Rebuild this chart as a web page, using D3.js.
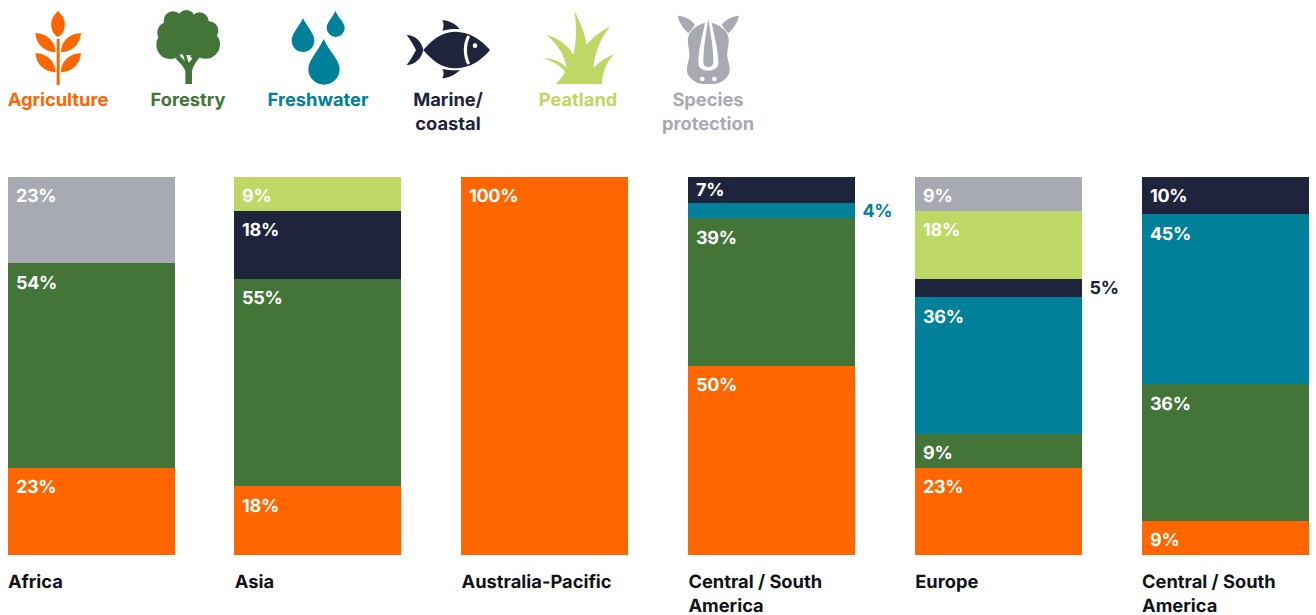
<!DOCTYPE html>
<html><head><meta charset="utf-8">
<script src="https://cdn.jsdelivr.net/npm/d3@7/dist/d3.min.js"></script>
<style>html,body{margin:0;padding:0;background:#fff;overflow:hidden}svg{display:block}text{font-family:Inter,sans-serif;font-weight:700;font-size:18.3px;text-rendering:geometricPrecision}text.val{font-size:18px;font-weight:650;letter-spacing:-0.3px}</style>
</head><body><svg id="c" width="1316" height="615"></svg>
<script>
const regions=["Africa","Asia","Australia-Pacific","Central / South America","Europe","Central / South America"];
const seriesNames=["Agriculture","Forestry","Freshwater","Marine/ coastal","Peatland","Species protection"];
const colors=["#ff6600","#437538","#008099","#1e243c","#bed765","#a7aab3"];
const agriculture=[23,18,100,50,23,9];
const forestry=[54,55,0,39,9,36];
const freshwater=[0,0,0,4,36,45];
const marine=[0,18,0,7,5,10];
const peatland=[0,9,0,0,18,0];
const species=[23,0,0,0,9,0];
const allSeries=[agriculture,forestry,freshwater,marine,peatland,species];

const svg=d3.select("#c");
const idx=regions.map((_,i)=>i);
const xBand=d3.scaleBand().domain(idx).range([8,1309]).paddingInner(0.2637).paddingOuter(0);
const x=i=>Math.floor(xBand(i));
const bw=Math.round(xBand.bandwidth());
const yScale=d3.scaleLinear().domain([0,100]).range([555.03,177.03]);
const y=v=>Math.floor(yScale(v));
const legendX=d3.scalePoint().domain(seriesNames).range([58,708]);

const rows=idx.map(i=>{const r={i};seriesNames.forEach((s,k)=>r[s]=allSeries[k][i]);return r;});
const stacked=d3.stack().keys(seriesNames)(rows);

stacked.forEach((layer,k)=>{
  const g=svg.append("g");
  const shown=layer.filter(d=>d[1]>d[0]);
  g.selectAll("rect").data(shown).join("rect")
    .attr("x",d=>x(d.data.i)).attr("width",bw)
    .attr("y",d=>y(d[1])).attr("height",d=>y(d[0])-y(d[1]))
    .attr("fill",colors[k]);
  g.selectAll("text").data(shown).join("text").attr("class","val")
    .attr("x",d=>(d[1]-d[0])<=5?x(d.data.i)+bw+7.5:x(d.data.i)+8)
    .attr("y",d=>{const v=d[1]-d[0];return v<=7?(y(d[0])+y(d[1]))/2+6:yScale(d[1])+25.1;})
    .attr("fill",d=>(d[1]-d[0])<=5?colors[k]:"#fff")
    .text(d=>(d[1]-d[0])+"%");
});

const lab=svg.append("g").selectAll("text").data(idx).join("text")
  .attr("x",i=>xBand(i)).attr("y",587.6).attr("fill","#111318");
lab.each(function(i){
  const t=d3.select(this), parts=regions[i]==="Central / South America"?["Central / South","America"]:[regions[i]];
  parts.forEach((p,n)=>t.append("tspan").attr("x",xBand(i)).attr("dy",n?24:0).text(p));
});

seriesNames.forEach((s,k)=>{
  const parts=s.includes(" ")?s.split(" "):[s];
  const t=svg.append("text").attr("text-anchor","middle").attr("fill",colors[k]).attr("y",106);
  parts.forEach((p,n)=>t.append("tspan").attr("x",legendX(s)).attr("dy",n?24:0).text(p));
});

const icons=[
 {c:175,d:[
  "M175,33C160,48 152,62 155,80C157,96 166,106 175,110C184,106 193,96 195,80C198,62 190,48 175,33Z",
  "M171,117H180V255H171Z",
  "M107,99C135,100 167,118 167,157C135,155 110,135 107,99Z",
  "M244,99C216,100 184,118 184,157C216,155 241,135 244,99Z",
  "M107,159C135,160 167,178 167,217C135,215 110,195 107,159Z",
  "M244,159C216,160 184,178 184,217C216,215 241,195 244,159Z"]},
 {c:565,d:[
  "M557,252V212C550,198 542,188 528,176L538,165L556,183L548,160L558,160L567,188L578,176L570,168L590,158L604,168C592,180 582,195 577,212V252Z"],
  blobs:[[520,62,28],[560,56,26],[600,64,27],[628,92,28],[505,98,32],[512,135,42],[618,133,43],[565,110,56]]},
 {c:955,d:[
  "M910,55C895,85 876,100 876,122A34,34 0 0 0 944,122C944,100 925,85 910,55Z",
  "M1007,33C995,58 981,68 981,84A27,27 0 0 0 1035,84C1035,68 1019,58 1007,33Z",
  "M972,117C955,155 926,180 926,207A47,47 0 0 0 1020,207C1020,180 989,155 972,117Z"]},
 {c:204,d:[
  "M330,150C305,120 270,95 225,95C185,95 155,120 130,150C125,125 105,105 80,105C92,120 100,135 108,150C100,165 92,180 80,195C105,195 125,175 130,150C155,180 185,205 225,205C270,205 305,180 330,150Z",
  "M187,60C210,62 228,73 240,88C222,86 205,88 187,92C192,82 192,70 187,60Z",
  "M187,235C210,233 228,222 240,210C222,212 205,210 187,207C192,215 192,225 187,235Z"],
  white:["M262,106C248,132 248,168 262,194L270,190C258,165 258,135 270,110Z"],dots:[[285,137,7]]},
 {c:594,d:[
  "M527,252C542,238 552,226 555,214C538,195 515,182 487,175C520,176 545,185 560,205C555,165 530,130 500,105C535,115 565,135 580,165C590,125 590,75 583,33C600,65 615,100 620,135C635,115 660,93 690,80C665,110 645,150 640,205C658,185 680,172 703,163C680,185 668,215 665,252Z"]},
 {c:984,d:[
  "M893,47C915,48 935,60 945,75C938,85 932,92 925,100C910,85 897,68 893,47Z",
  "M1077,47C1055,48 1035,60 1025,75C1032,85 1038,92 1045,100C1060,85 1073,68 1077,47Z",
  "M975,68C950,75 930,90 925,110C920,130 930,150 928,170C925,190 918,200 922,220C932,240 950,252 970,252H1000C1020,252 1038,240 1048,220C1052,200 1045,190 1042,170C1040,150 1050,130 1045,110C1040,90 1020,75 995,68C1003,110 1015,150 1015,190C1015,205 1000,212 985,212C970,212 955,205 955,190C955,150 967,110 975,68Z",
  "M985,57C978,100 970,145 970,185C970,197 978,201 985,201C992,201 1000,197 1000,185C1000,145 992,100 985,57Z"],
  dots:[[967,237,7],[1003,237,7]]}
];
icons.forEach((ic,k)=>{
  const g=svg.append("g").attr("transform",`translate(${legendX(seriesNames[k])},0) scale(${1/3}) translate(${-ic.c},0)`);
  if(ic.blobs)g.selectAll("circle.b").data(ic.blobs).join("circle").attr("class","b").attr("cx",d=>d[0]).attr("cy",d=>d[1]).attr("r",d=>d[2]).attr("fill",colors[k]);
  g.selectAll("path.a").data(ic.d).join("path").attr("class","a").attr("d",d=>d).attr("fill",colors[k]);
  if(ic.white)g.selectAll("path.w").data(ic.white).join("path").attr("class","w").attr("d",d=>d).attr("fill","#fff");
  if(ic.dots)g.selectAll("circle.d").data(ic.dots).join("circle").attr("class","d").attr("cx",d=>d[0]).attr("cy",d=>d[1]).attr("r",d=>d[2]).attr("fill","#fff");
});
</script></body></html>
